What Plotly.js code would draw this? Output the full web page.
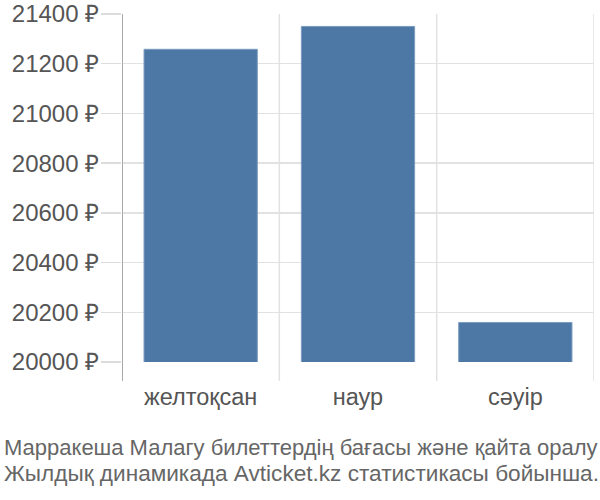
<!DOCTYPE html>
<html>
<head>
<meta charset="utf-8">
<script src="https://cdn.plot.ly/plotly-3.0.1.min.js"></script>
<style>
  html, body { margin: 0; padding: 0; background: #fff; }
  #chart { width: 600px; height: 500px; }
</style>
</head>
<body>
<div id="chart"></div>
<script>
// values
const months = ['желтоқсан', 'наур', 'сәуір'];
const prices = [21258, 21350, 20159];
const tickVals = [20000, 20200, 20400, 20600, 20800, 21000, 21200, 21400];
const tickText = tickVals.map(v => v + ' ₽');
const caption = ['Марракеша Малагу билеттердің бағасы және қайта оралу',
                 'Жылдық динамикада Avticket.kz статистикасы бойынша.'];
const captionSize = [22, 22.6];

const W = 600, H = 500;
const m = { l: 122, r: 6, t: 14, b: 138 };
const plotW = W - m.l - m.r;
const plotH = H - m.t - m.b;

const font = 'Liberation Sans, Arial, sans-serif';

// category separators, running a bit below the plot like the reference
const seps = [-0.5, 0.5, 1.5, 2.5].map((x, i) => ({
  type: 'line', xref: 'x', yref: 'paper',
  x0: x, x1: x, y0: -19 / plotH, y1: 1,
  line: { color: i === 0 ? '#aaaaaa' : '#e2e2e2', width: i === 0 ? 2 : 1.5 },
  layer: 'above'
}));

const trace = {
  type: 'bar',
  x: months,
  y: prices,
  width: 0.72,
  marker: { color: '#4d78a6', line: { color: '#7b9cc1', width: 1 } },
  hoverinfo: 'none'
};

const layout = {
  width: W, height: H,
  margin: m,
  paper_bgcolor: '#fff', plot_bgcolor: '#fff',
  showlegend: false,
  font: { family: font, color: '#555' },
  xaxis: {
    type: 'category',
    range: [-0.5, 2.5],
    showgrid: false, showline: false, zeroline: false,
    ticks: '', ticklabelstandoff: 18,
    tickfont: { size: 23.5, color: '#555' }
  },
  yaxis: {
    range: [20000, 21400],
    tickmode: 'array',
    tickvals: tickVals,
    ticktext: tickText,
    ticks: 'outside', ticklen: 20, tickcolor: '#dcdcdc', tickwidth: 1.5,
    ticklabelstandoff: -3,
    showgrid: true, gridcolor: '#e2e2e2', gridwidth: 1.5,
    zeroline: false, showline: false,
    tickfont: { size: 24, color: '#555' }
  },
  shapes: seps,
  annotations: caption.map((t, i) => ({
    text: t, xref: 'paper', yref: 'paper',
    x: (2 - m.l) / plotW, y: -(447 + i * 26 - (m.t + plotH)) / plotH,
    xanchor: 'left', yanchor: 'middle', showarrow: false, align: 'left',
    font: { size: captionSize[i], color: '#666', family: font }
  }))
};

Plotly.newPlot('chart', [trace], layout, { displayModeBar: false, staticPlot: true });
</script>
</body>
</html>
